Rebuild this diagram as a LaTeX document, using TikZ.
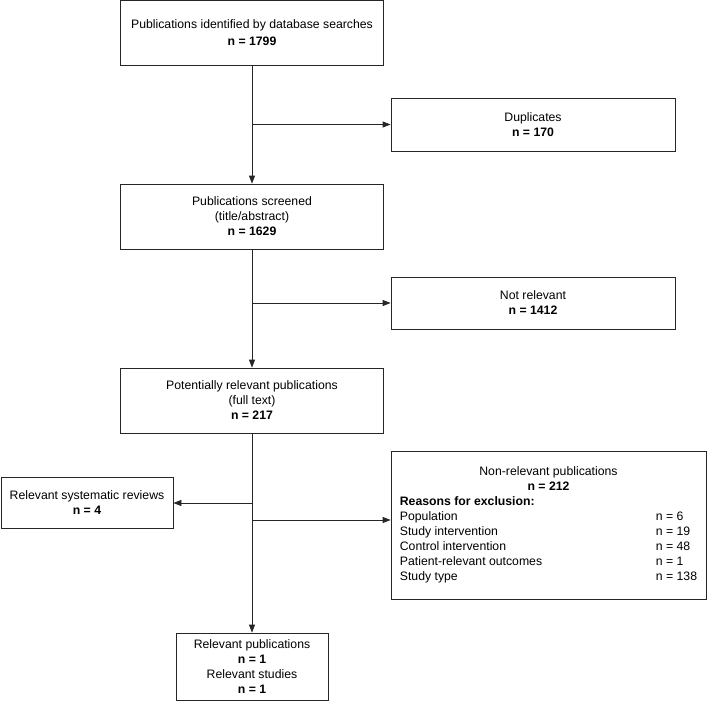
\documentclass[tikz,border=0pt]{standalone}
\usepackage{fontspec}
\setmainfont{Liberation Sans}
\usetikzlibrary{arrows.meta}

\begin{document}
\begin{tikzpicture}[x=1pt, y=-1pt,
    stage/.style={draw=black!85, line width=0.8pt, align=center, inner sep=0pt, font=\fontsize{12.25}{15}\selectfont},
    flow/.style={draw=black!85, line width=0.8pt, -{Triangle[length=8pt, width=6pt]}}]
    \useasboundingbox (0,0) rectangle (709,701);
    % main column
    \node [stage, minimum width=263, minimum height=65] (search) at (252,32.5)
      {Publications identified by database searches\\[2pt] \textbf{n = 1799}};
    \node [stage, minimum width=263, minimum height=65] (screen) at (252,216.5)
      {Publications screened\\ (title/abstract)\\ \textbf{n = 1629}};
    \node [stage, minimum width=263, minimum height=65] (fulltext) at (252,400.5)
      {Potentially relevant publications\\ (full text)\\ \textbf{n = 217}};
    \node [stage, minimum width=152, minimum height=67] (relevant) at (252,666.5)
      {Relevant publications\\ \textbf{n = 1}\\ Relevant studies\\ \textbf{n = 1}};
    % side boxes
    \node [stage, minimum width=284, minimum height=53] (dupl) at (533,124.5)
      {Duplicates\\ \textbf{n = 170}};
    \node [stage, minimum width=284, minimum height=52] (notrel) at (533,303)
      {Not relevant\\ \textbf{n = 1412}};
    \node [stage, minimum width=172, minimum height=51] (sysrev) at (87,502.5)
      {Relevant systematic reviews\\ \textbf{n = 4}};
    \node [stage, minimum width=315, minimum height=148] (nonrel) at (548.5,525)
      {\begin{tabular}{@{}p{256pt}@{}l@{}}
        \multicolumn{2}{@{}c@{}}{Non-relevant publications}\\
        \multicolumn{2}{@{}c@{}}{\textbf{n = 212}}\\
        \multicolumn{2}{@{}l@{}}{\textbf{Reasons for exclusion:}}\\
        Population & n = 6\\
        Study intervention & n = 19\\
        Control intervention & n = 48\\
        Patient-relevant outcomes & n = 1\\
        Study type & n = 138
      \end{tabular}};
    % connectors
    \coordinate (toleft) at (252,503);
    \coordinate (toright) at (252,520);
    \draw [flow] (search) -- (screen);
    \draw [flow] (screen) -- (fulltext);
    \draw [flow] (fulltext) -- (relevant);
    \draw [flow] (search.south |- dupl.west) -- (dupl.west);
    \draw [flow] (screen.south |- notrel.west) -- (notrel.west);
    \draw [flow] (toleft) -- (toleft -| sysrev.east);
    \draw [flow] (toright) -- (toright -| nonrel.west);
\end{tikzpicture}
\end{document}
